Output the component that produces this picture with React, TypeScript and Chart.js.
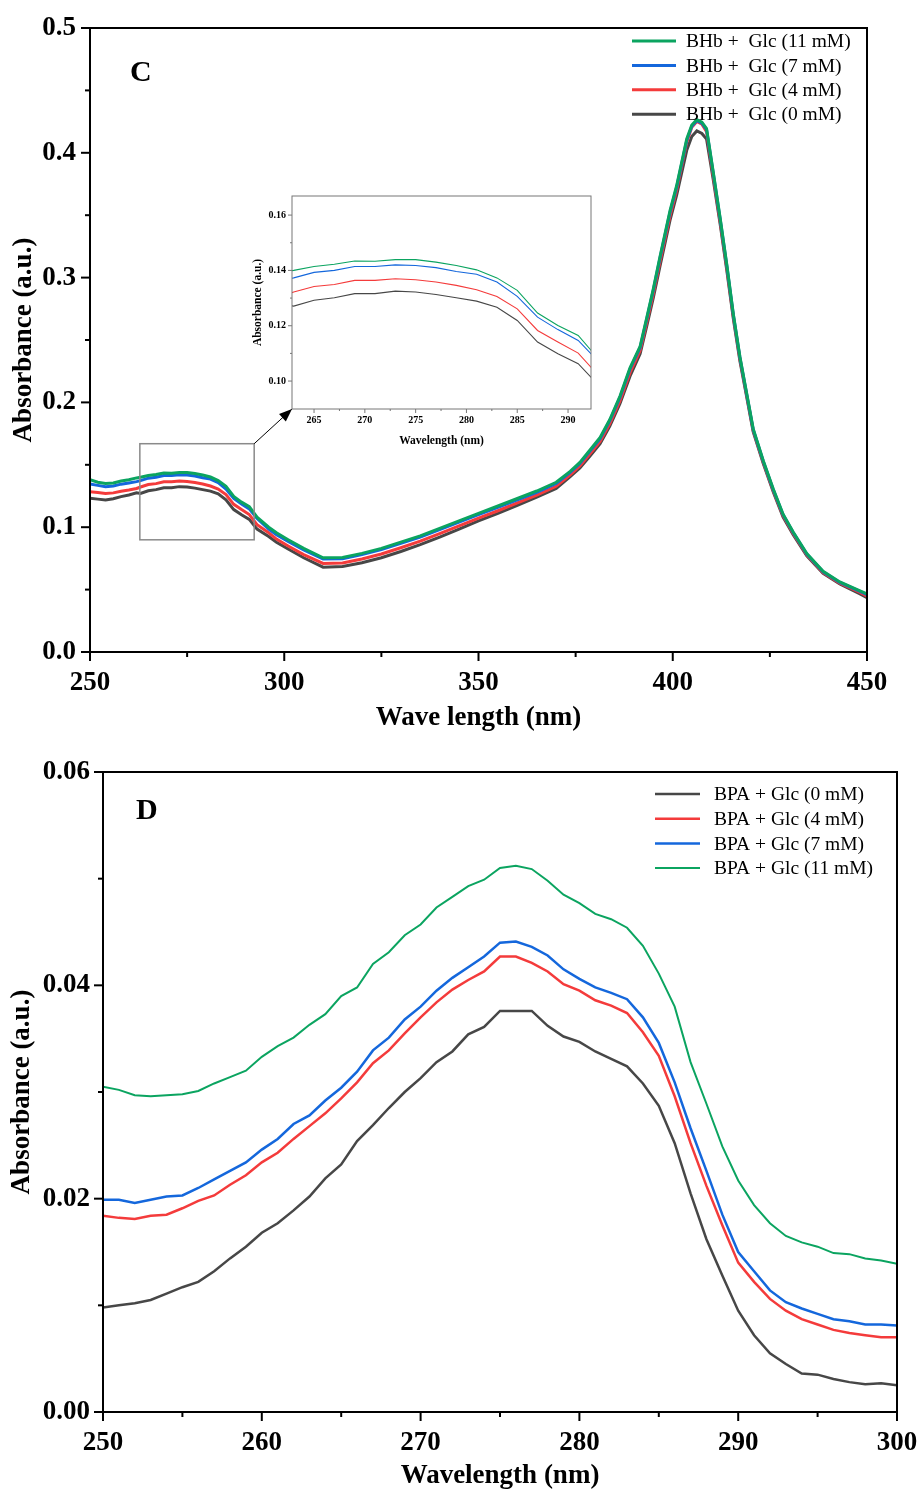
import React, { useEffect, useRef } from 'react';
import { Chart, registerables } from 'chart.js';

Chart.register(...registerables);

const SERIF = '"Liberation Serif", "Times New Roman", Times, serif';

// ---------- Panel C (BHb) ----------
const WL_C = [
  250, 252, 254, 256, 258, 260, 262,
  263, 265, 267, 269, 271, 273, 275, 277, 279, 281, 283, 285, 287, 289, 291, 293,
  296, 298, 301, 305, 310, 315, 320, 325, 330, 335, 340, 345, 350, 355, 360, 365, 370,
  373.6, 376.1, 378.7, 381.3, 383.8, 386.4, 389, 391.6, 393.3, 395, 396.7, 399.3, 401, 403.6, 404.9,
  406.2, 407.5, 408.7, 410.4, 412.2, 413.9, 415.6, 417.3, 419, 420.7, 423.3, 425.9, 428.4, 431,
  434.5, 438.7, 443, 448.2, 450,
];
const C_11 = [
  0.138, 0.136, 0.135, 0.1355, 0.137, 0.138, 0.1395,
  0.14, 0.1414, 0.1422, 0.1434, 0.1433, 0.1439, 0.1439, 0.143, 0.1418, 0.1402, 0.1373, 0.1328, 0.1246, 0.1201, 0.1165, 0.108,
  0.1, 0.0955, 0.09, 0.083, 0.0755, 0.0758, 0.079, 0.083, 0.088, 0.093, 0.099, 0.105, 0.111, 0.117, 0.123, 0.129, 0.136,
  0.1447, 0.1519, 0.1619, 0.1719, 0.1863, 0.2049, 0.2277, 0.2449, 0.2677, 0.291, 0.3165, 0.3536, 0.3736, 0.4111, 0.4223,
  0.4266, 0.4245, 0.4194, 0.3851, 0.3478, 0.3107, 0.2706, 0.2364, 0.2078, 0.179, 0.1533, 0.1304, 0.1104, 0.0961,
  0.0789, 0.0646, 0.0561, 0.0489, 0.0465,
];
const C_7 = [
  0.1346, 0.1335, 0.1325, 0.133, 0.1345, 0.1355, 0.1365,
  0.1373, 0.1393, 0.14, 0.1414, 0.1414, 0.142, 0.1418, 0.141, 0.1396, 0.1386, 0.1358, 0.1306, 0.1231, 0.1186, 0.1147, 0.107,
  0.0985, 0.094, 0.0885, 0.0818, 0.0745, 0.0748, 0.078, 0.082, 0.087, 0.092, 0.098, 0.104, 0.11, 0.116, 0.122, 0.128, 0.135,
  0.144, 0.151, 0.161, 0.171, 0.1855, 0.204, 0.2268, 0.244, 0.2668, 0.29, 0.3155, 0.3525, 0.3725, 0.41, 0.4212,
  0.4258, 0.4238, 0.4186, 0.3843, 0.347, 0.31, 0.27, 0.2358, 0.2072, 0.1784, 0.1528, 0.1299, 0.11, 0.0957,
  0.0785, 0.0642, 0.0557, 0.0485, 0.046,
];
const C_4 = [
  0.1285, 0.1278, 0.127, 0.1275, 0.1288, 0.1298, 0.131,
  0.1322, 0.1342, 0.1349, 0.1364, 0.1364, 0.137, 0.1366, 0.1358, 0.1346, 0.133, 0.1306, 0.1261, 0.1183, 0.1141, 0.1101, 0.102,
  0.0955, 0.0905, 0.085, 0.078, 0.071, 0.0714, 0.0745, 0.0785, 0.0835, 0.0888, 0.0948, 0.101, 0.1072, 0.1132, 0.1195, 0.1258, 0.1328,
  0.142, 0.149, 0.1588, 0.1688, 0.183, 0.2012, 0.2238, 0.2415, 0.264, 0.2872, 0.3125, 0.3495, 0.37, 0.4085, 0.4205,
  0.4251, 0.423, 0.417, 0.382, 0.345, 0.308, 0.2685, 0.2345, 0.2062, 0.1776, 0.152, 0.129, 0.1092, 0.095,
  0.0778, 0.0637, 0.0552, 0.0478, 0.0448,
];
const C_0 = [
  0.1232, 0.1225, 0.1218, 0.1228, 0.1245, 0.1258, 0.1275,
  0.1271, 0.1292, 0.1301, 0.1316, 0.1316, 0.1325, 0.1322, 0.1313, 0.1301, 0.1289, 0.1267, 0.1219, 0.1141, 0.1099, 0.1063, 0.0985,
  0.0925, 0.088, 0.0825, 0.0755, 0.068, 0.0685, 0.0715, 0.0755, 0.0805, 0.086, 0.092, 0.0985, 0.105, 0.111, 0.1175, 0.124, 0.131,
  0.1405, 0.1475, 0.157, 0.167, 0.181, 0.199, 0.221, 0.239, 0.261, 0.284, 0.309, 0.346, 0.366, 0.402, 0.413,
  0.4175, 0.4155, 0.411, 0.379, 0.343, 0.306, 0.267, 0.233, 0.205, 0.1765, 0.151, 0.128, 0.108, 0.094,
  0.077, 0.063, 0.0545, 0.0465, 0.0435,
];
const C_LABELS = ['BHb +  Glc (11 mM)', 'BHb +  Glc (7 mM)', 'BHb +  Glc (4 mM)', 'BHb +  Glc (0 mM)'];
const C_X_TICKS = [250, 300, 350, 400, 450];
const C_Y_TICKS = [0, 0.1, 0.2, 0.3, 0.4, 0.5];

// inset (zoom of 263–292 nm)
const INSET_X_RANGE = [262.83, 292.26];
const INSET_Y_RANGE = [0.0899, 0.1669];
const INSET_X_TICKS = [265, 270, 275, 280, 285, 290];
const INSET_Y_TICKS = [0.1, 0.12, 0.14, 0.16];
const ARROW_TARGET = [302.0, 0.1947];

// ---------- Panel D (BPA) ----------
const WL_D = [
  250, 251, 252, 253, 254, 255, 256, 257, 258, 259,
  260, 261, 262, 263, 264, 265, 266, 267, 268, 269,
  270, 271, 272, 273, 274, 275, 276, 277, 278, 279,
  280, 281, 282, 283, 284, 285, 286, 287, 288, 289,
  290, 291, 292, 293, 294, 295, 296, 297, 298, 299, 300,
];
const D_0 = [
  0.0098, 0.01, 0.0102, 0.0105, 0.0111, 0.0117, 0.0122, 0.0132, 0.0144, 0.0155,
  0.0168, 0.0177, 0.0189, 0.0202, 0.0219, 0.0232, 0.0254, 0.0269, 0.0285, 0.03,
  0.0313, 0.0328, 0.0338, 0.0354, 0.0361, 0.0376, 0.0376, 0.0376, 0.0362, 0.0352,
  0.0347, 0.0338, 0.0331, 0.0324, 0.0308, 0.0287, 0.0252, 0.0205, 0.0162, 0.0128,
  0.0095, 0.0072, 0.0055, 0.0045, 0.0036, 0.0035, 0.0031, 0.0028, 0.0026, 0.0027, 0.0025,
];
const D_4 = [
  0.0184, 0.0182, 0.0181, 0.0184, 0.0185, 0.0191, 0.0198, 0.0203, 0.0213, 0.0222,
  0.0234, 0.0243, 0.0256, 0.0268, 0.028, 0.0294, 0.0309, 0.0327, 0.0339, 0.0355,
  0.037, 0.0384, 0.0396, 0.0405, 0.0413, 0.0427, 0.0427, 0.0421, 0.0413, 0.0401,
  0.0395, 0.0386, 0.0381, 0.0374, 0.0356, 0.0334, 0.0296, 0.0252, 0.0212, 0.0175,
  0.014, 0.0122, 0.0106, 0.0095, 0.0087, 0.0082, 0.0077, 0.0074, 0.0072, 0.007, 0.007,
];
const D_7 = [
  0.0199, 0.0199, 0.0196, 0.0199, 0.0202, 0.0203, 0.021, 0.0218, 0.0226, 0.0234,
  0.0246, 0.0256, 0.027, 0.0278, 0.0292, 0.0304, 0.0319, 0.0339, 0.0351, 0.0368,
  0.038, 0.0395, 0.0407, 0.0417, 0.0427, 0.044, 0.0441, 0.0436, 0.0428, 0.0415,
  0.0406, 0.0398, 0.0393, 0.0387, 0.037, 0.0346, 0.0309, 0.0266, 0.0226, 0.0185,
  0.015, 0.0132, 0.0114, 0.0103, 0.0097, 0.0092, 0.0087, 0.0085, 0.0082, 0.0082, 0.0081,
];
const D_11 = [
  0.0305, 0.0302, 0.0297, 0.0296, 0.0297, 0.0298, 0.0301, 0.0308, 0.0314, 0.032,
  0.0333, 0.0343, 0.0351, 0.0363, 0.0373, 0.039, 0.0398, 0.042, 0.0431, 0.0447,
  0.0457, 0.0473, 0.0483, 0.0493, 0.0499, 0.051, 0.0512, 0.0509, 0.0498, 0.0485,
  0.0477, 0.0467, 0.0462, 0.0454, 0.0437, 0.0411, 0.038, 0.0328, 0.0289, 0.0249,
  0.0217, 0.0194, 0.0177, 0.0165, 0.0159, 0.0155, 0.0149, 0.0148, 0.0144, 0.0142, 0.0139,
];
const D_LABELS = ['BPA + Glc (0 mM)', 'BPA + Glc (4 mM)', 'BPA + Glc (7 mM)', 'BPA + Glc (11 mM)'];
const D_X_TICKS = [250, 260, 270, 280, 290, 300];
const D_Y_TICKS = [0, 0.02, 0.04, 0.06];

const GREEN = '#0ba460';
const BLUE = '#1467dc';
const RED = '#f43b3b';
const GREY = '#474747';

function makeDatasets(wl: number[], series: number[][], labels: string[], colors: string[], widths: number[]) {
  return series.map((s, i) => ({
    label: labels[i],
    data: s.map((v, j) => ({ x: wl[j], y: v })),
    borderColor: colors[i],
    backgroundColor: colors[i],
    borderWidth: widths[i],
    pointRadius: 0,
    tension: 0,
    fill: false,
  }));
}

const decorPlugin = {
  id: 'decor',
  afterDraw(chart: any, _args: any, o: any) {
    const { ctx, chartArea: a, scales } = chart;
    const xs = scales.x;
    const ys = scales.y;
    ctx.save();
    ctx.strokeStyle = o.frameColor;
    ctx.lineWidth = o.frameWidth;
    ctx.strokeRect(a.left, a.top, a.right - a.left, a.bottom - a.top);
    const drawTicks = (scale: any, horizontal: boolean) => {
      const vals = scale.ticks.map((t: any) => t.value);
      const minors: number[] = [];
      for (let i = 0; i < vals.length - 1; i++) minors.push((vals[i] + vals[i + 1]) / 2);
      const seg = (v: number, len: number) => {
        const p = scale.getPixelForValue(v);
        ctx.beginPath();
        if (horizontal) {
          ctx.moveTo(p, a.bottom);
          ctx.lineTo(p, a.bottom + len);
        } else {
          ctx.moveTo(a.left, p);
          ctx.lineTo(a.left - len, p);
        }
        ctx.stroke();
      };
      vals.forEach((v: number) => seg(v, o.major));
      minors.forEach((v: number) => seg(v, o.minor));
    };
    drawTicks(xs, true);
    drawTicks(ys, false);

    if (o.box) {
      const b = o.box;
      const x0 = xs.getPixelForValue(b.x0);
      const x1 = xs.getPixelForValue(b.x1);
      const y0 = ys.getPixelForValue(b.y0);
      const y1 = ys.getPixelForValue(b.y1);
      ctx.strokeStyle = '#8a8a8a';
      ctx.lineWidth = 1.5;
      ctx.strokeRect(x0, y1, x1 - x0, y0 - y1);
      const tx = xs.getPixelForValue(b.tx);
      const ty = ys.getPixelForValue(b.ty);
      ctx.strokeStyle = '#000';
      ctx.lineWidth = 1;
      ctx.beginPath();
      ctx.moveTo(x1, y1);
      ctx.lineTo(tx, ty);
      ctx.stroke();
      const ang = Math.atan2(ty - y1, tx - x1);
      const L = 13;
      const W = 5;
      ctx.fillStyle = '#000';
      ctx.beginPath();
      ctx.moveTo(tx, ty);
      ctx.lineTo(tx - L * Math.cos(ang) + W * Math.sin(ang), ty - L * Math.sin(ang) - W * Math.cos(ang));
      ctx.lineTo(tx - L * Math.cos(ang) - W * Math.sin(ang), ty - L * Math.sin(ang) + W * Math.cos(ang));
      ctx.closePath();
      ctx.fill();
    }

    if (o.letter) {
      ctx.fillStyle = '#000';
      ctx.font = `bold ${o.letterSize}px ${SERIF}`;
      ctx.textBaseline = 'middle';
      ctx.textAlign = 'left';
      ctx.fillText(o.letter, o.letterX, o.letterY);
    }

    if (o.legend) {
      const L = o.legend;
      ctx.font = `${L.size}px ${SERIF}`;
      ctx.textBaseline = 'middle';
      ctx.textAlign = 'left';
      chart.data.datasets.forEach((ds: any, i: number) => {
        const yy = L.y + i * L.rowH;
        ctx.strokeStyle = ds.borderColor;
        ctx.lineWidth = L.lineWidth || ds.borderWidth;
        ctx.beginPath();
        ctx.moveTo(L.x, yy);
        ctx.lineTo(L.x + L.lineLen, yy);
        ctx.stroke();
        ctx.fillStyle = '#000';
        ctx.fillText(ds.label, L.x + L.lineLen + L.gap, yy + 1);
      });
    }
    ctx.restore();
  },
};

function axisCfg(opts: {
  min: number; max: number; ticks: number[]; fmt: number; size: number; pad: number;
  title: string; titleSize: number; titlePad: any; fit: number; horizontal: boolean;
}) {
  return {
    type: 'linear',
    min: opts.min,
    max: opts.max,
    afterBuildTicks: (s: any) => {
      s.ticks = opts.ticks.map((v) => ({ value: v }));
    },
    afterFit: (s: any) => {
      if (opts.horizontal) {
        s.height = opts.fit;
        s.paddingLeft = 0;
        s.paddingRight = 0;
      } else {
        s.width = opts.fit;
        s.paddingTop = 0;
        s.paddingBottom = 0;
      }
    },
    grid: { display: false, drawTicks: false },
    border: { display: false },
    ticks: {
      autoSkip: false,
      maxRotation: 0,
      padding: opts.pad,
      color: '#000',
      font: { family: SERIF, size: opts.size, weight: 'bold' },
      callback: (v: any) => (opts.fmt < 0 ? String(v) : Number(v).toFixed(opts.fmt)),
    },
    title: {
      display: true,
      text: opts.title,
      color: '#000',
      font: { family: SERIF, size: opts.titleSize, weight: 'bold' },
      padding: opts.titlePad,
    },
  };
}

function configC() {
  return {
    type: 'line',
    data: {
      datasets: makeDatasets(WL_C, [C_11, C_7, C_4, C_0], C_LABELS, [GREEN, BLUE, RED, GREY], [3, 3, 3, 3]),
    },
    options: {
      responsive: false,
      animation: false,
      layout: { padding: { left: 0, top: 28, right: 53, bottom: 0 } },
      scales: {
        x: axisCfg({ min: 250, max: 450, ticks: C_X_TICKS, fmt: -1, size: 27, pad: 15, title: 'Wave length (nm)', titleSize: 27, titlePad: { top: 0, bottom: 6 }, fit: 88, horizontal: true }),
        y: axisCfg({ min: 0, max: 0.5, ticks: C_Y_TICKS, fmt: 1, size: 27, pad: 14, title: 'Absorbance (a.u.)', titleSize: 27, titlePad: { top: 8, bottom: 0 }, fit: 90, horizontal: false }),
      },
      plugins: {
        legend: { display: false },
        tooltip: { enabled: false },
        decor: {
          frameColor: '#000', frameWidth: 2, major: 9, minor: 5,
          letter: 'C', letterSize: 30, letterX: 130, letterY: 73,
          legend: { x: 632, y: 41, rowH: 24.4, lineLen: 44, gap: 10, size: 19.5 },
          box: { x0: INSET_X_RANGE[0], x1: INSET_X_RANGE[1], y0: INSET_Y_RANGE[0], y1: INSET_Y_RANGE[1], tx: ARROW_TARGET[0], ty: ARROW_TARGET[1] },
        },
      },
    },
    plugins: [decorPlugin],
  };
}

function configInset() {
  return {
    type: 'line',
    data: {
      datasets: makeDatasets(WL_C, [C_11, C_7, C_4, C_0], C_LABELS, [GREEN, BLUE, RED, GREY], [1.1, 1.1, 1.1, 1.1]),
    },
    options: {
      responsive: false,
      animation: false,
      layout: { padding: { left: 0, top: 4, right: 9, bottom: 0 } },
      scales: {
        x: axisCfg({ min: INSET_X_RANGE[0], max: INSET_X_RANGE[1], ticks: INSET_X_TICKS, fmt: -1, size: 10, pad: 5, title: 'Wavelength (nm)', titleSize: 11.5, titlePad: { top: 0, bottom: 2 }, fit: 41, horizontal: true }),
        y: axisCfg({ min: INSET_Y_RANGE[0], max: INSET_Y_RANGE[1], ticks: INSET_Y_TICKS, fmt: 2, size: 10, pad: 6, title: 'Absorbance (a.u.)', titleSize: 11.5, titlePad: { top: 6, bottom: 0 }, fit: 47, horizontal: false }),
      },
      plugins: {
        legend: { display: false },
        tooltip: { enabled: false },
        decor: { frameColor: '#777', frameWidth: 1, major: 4, minor: 2 },
      },
    },
    plugins: [decorPlugin],
  };
}

function configD() {
  return {
    type: 'line',
    data: {
      datasets: makeDatasets(WL_D, [D_0, D_4, D_7, D_11], D_LABELS, [GREY, RED, BLUE, GREEN], [2.5, 2.5, 2.5, 2]),
    },
    options: {
      responsive: false,
      animation: false,
      layout: { padding: { left: 0, top: 32, right: 23, bottom: 0 } },
      scales: {
        x: axisCfg({ min: 250, max: 300, ticks: D_X_TICKS, fmt: -1, size: 27, pad: 15, title: 'Wavelength (nm)', titleSize: 27, titlePad: { top: 0, bottom: 1 }, fit: 81, horizontal: true }),
        y: axisCfg({ min: 0, max: 0.06, ticks: D_Y_TICKS, fmt: 2, size: 27, pad: 13, title: 'Absorbance (a.u.)', titleSize: 27, titlePad: { top: 6, bottom: 0 }, fit: 103, horizontal: false }),
      },
      plugins: {
        legend: { display: false },
        tooltip: { enabled: false },
        decor: {
          frameColor: '#000', frameWidth: 2, major: 9, minor: 5,
          letter: 'D', letterSize: 30, letterX: 136, letterY: 71,
          legend: { x: 655, y: 54, rowH: 24.7, lineLen: 45, gap: 14, size: 19.5 },
        },
      },
    },
    plugins: [decorPlugin],
  };
}

function ChartCanvas(props: { make: () => any; left: number; top: number; width: number; height: number }) {
  const ref = useRef<HTMLCanvasElement | null>(null);
  useEffect(() => {
    const chart = new Chart(ref.current as HTMLCanvasElement, props.make());
    return () => chart.destroy();
  }, []);
  return (
    <canvas
      ref={ref}
      width={props.width}
      height={props.height}
      style={{ position: 'absolute', left: props.left, top: props.top, width: props.width + 'px', height: props.height + 'px' }}
    />
  );
}

export default function App() {
  return (
    <div style={{ position: 'absolute', left: 0, top: 0, width: 920, height: 1493, background: '#fff', overflow: 'hidden' }}>
      <ChartCanvas make={configC} left={0} top={0} width={920} height={740} />
      <ChartCanvas make={configInset} left={245} top={192} width={355} height={258} />
      <ChartCanvas make={configD} left={0} top={740} width={920} height={753} />
    </div>
  );
}
